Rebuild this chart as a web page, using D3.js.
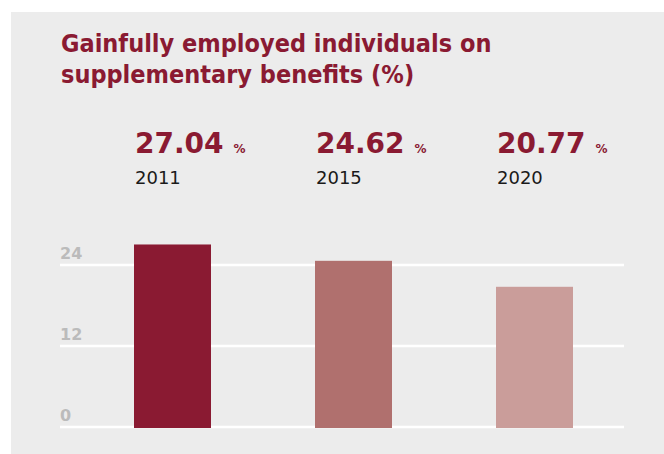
<!DOCTYPE html>
<html><head><meta charset="utf-8">
<script src="https://cdn.jsdelivr.net/npm/d3@7"></script>
<style>body{margin:0;background:#fff}svg{display:block}</style>
</head><body>
<svg id="c" width="664" height="454"></svg>
<script>
const years = ["2011","2015","2020"];
const values = [27.04, 24.62, 20.77];
const colors = ["#8a1a32","#b0706e","#ca9d9a"];
const yTicks = [0, 12, 24];
const titleLines = ["Gainfully employed individuals on","supplementary benefits (%)"];

const svg = d3.select("#c");
svg.append("rect").attr("x",11).attr("y",12).attr("width",653).attr("height",442).attr("fill","#ececec");

const font = "'DejaVu Sans', Verdana, sans-serif";
const fontC = "'DejaVu Sans Condensed', 'DejaVu Sans', sans-serif";
const red = "#8a1a32";

svg.selectAll("text.title").data(titleLines).enter().append("text")
  .attr("x",61).attr("y",(d,i)=>52+i*31)
  .attr("font-family",fontC).attr("font-weight","bold").attr("font-size",25)
  .attr("fill",red).text(d=>d);

const x = d3.scaleBand().domain(years).range([134,573]).paddingInner(0.5746).paddingOuter(0);
const y = d3.scaleLinear().domain([0,24]).range([427,265]);

const grid = svg.append("g");
grid.selectAll("line").data(yTicks).enter().append("line")
  .attr("x1",60).attr("x2",624).attr("y1",d=>y(d)).attr("y2",d=>y(d))
  .attr("stroke","#fff").attr("stroke-width",2.5);
grid.selectAll("text").data(yTicks).enter().append("text")
  .attr("x",60).attr("y",d=>y(d)-6)
  .attr("font-family",font).attr("font-weight","bold").attr("font-size",16)
  .attr("fill","#bbbbbb").text(d=>d);

svg.selectAll("rect.bar").data(values).enter().append("rect").attr("class","bar")
  .attr("x",(d,i)=>x(years[i])).attr("width",x.bandwidth())
  .attr("y",d=>y(d)).attr("height",d=>y(0)-y(d)+1)
  .attr("fill",(d,i)=>colors[i]);

const lab = svg.selectAll("g.lab").data(values).enter().append("g")
  .attr("transform",(d,i)=>`translate(${x(years[i])+1},0)`);
const big = lab.append("text").attr("y",153).attr("font-family",font).attr("fill",red).attr("font-weight","bold");
big.append("tspan").attr("font-size",28).text(d=>d.toFixed(2));
big.append("tspan").attr("font-size",12).attr("dx",10).text("%");
lab.append("text").attr("y",184).attr("font-family",font).attr("font-size",18).attr("fill","#1a1a1a")
  .text((d,i)=>years[i]);
</script>
</body></html>
